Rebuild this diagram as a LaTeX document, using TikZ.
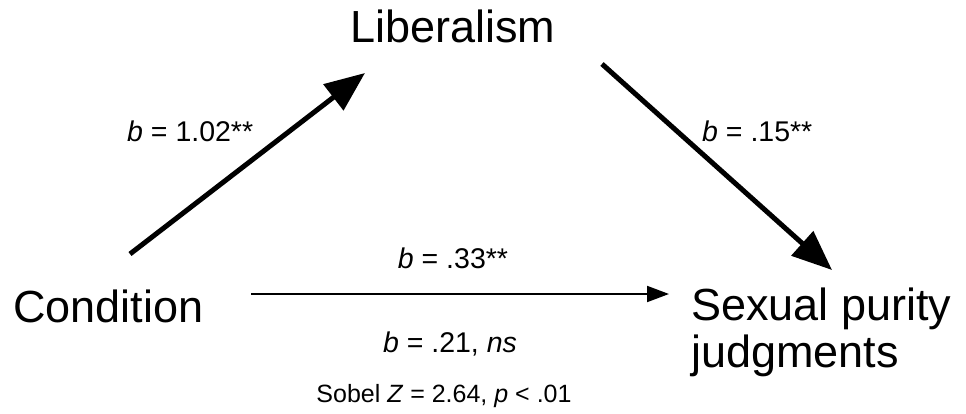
\documentclass[tikz,border=0pt]{standalone}
\usepackage{fontspec}
\setmainfont{Liberation Sans}
\usetikzlibrary{arrows.meta}
\begin{document}
\begin{tikzpicture}[x=1pt,y=-1pt,
  var/.style={font=\fontsize{45}{47}\selectfont, inner sep=0pt, anchor=base west},
  lab/.style={font=\fontsize{28.5}{32}\selectfont, inner sep=0pt},
  sob/.style={font=\fontsize{25}{28}\selectfont, inner sep=0pt, anchor=base},
  bigarrow/.style={line width=5pt, -{Triangle[length=40pt,width=32pt]}},
  thinarrow/.style={line width=2pt, -{Triangle[length=22pt,width=16pt]}}]
\useasboundingbox (0,0) rectangle (966,414);
\node[var] (lib) at (350,43) {Liberalism};
\node[var] (cond) at (13,322) {Condition};
\node[var] (sex) at (691,320) {Sexual purity};
\node[var] (sex2) at (691,367) {judgments};

\coordinate (a1s) at (130,254);
\coordinate (a1e) at (365,73);
\coordinate (a2s) at (602,64);
\coordinate (a2e) at (832,270);
\coordinate (a3s) at (251,294);
\coordinate (a3e) at (669,294);

\draw[bigarrow] (a1s) -- (a1e);
\draw[bigarrow] (a2s) -- (a2e);
\draw[thinarrow] (a3s) -- (a3e);

\node[lab, anchor=base west] (l1) at (127,142) {\textit{b} = 1.02**};
\node[lab, anchor=base west] (l2) at (702,142) {\textit{b} = .15**};
\node[lab, anchor=base] (l3) at (453,268) {\textit{b} = .33**};
\node[lab, anchor=base] (l4) at (450,352) {\textit{b} = .21, \textit{ns}};
\node[sob] (l5) at (444,402) {Sobel \textit{Z} = 2.64, \textit{p} < .01};
\end{tikzpicture}
\end{document}
